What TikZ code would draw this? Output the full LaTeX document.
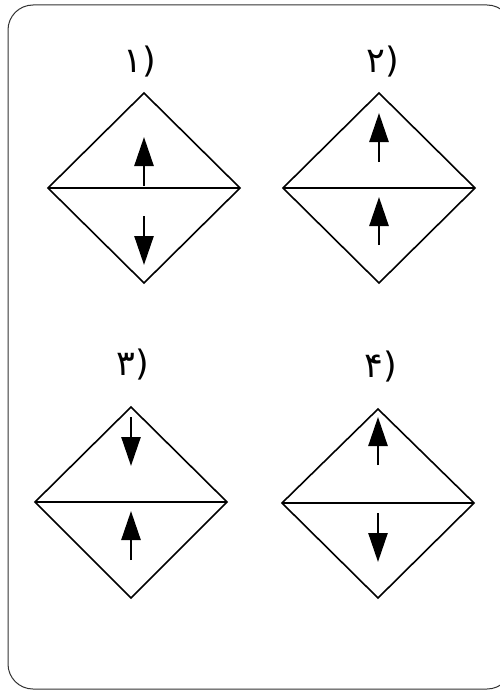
\documentclass[tikz,border=0pt]{standalone}
\usepackage{fontspec}
\newfontfamily\farsifont[Script=Arabic]{DejaVu Sans}
\usetikzlibrary{arrows.meta}
\tikzset{
  edge/.style = {line width = 1.6pt},
  spin/.style = {line width = 2.6pt, -{Triangle[length = 29pt, width = 19pt]}},
  num/.style = {font = \farsifont\fontsize{35}{35}\selectfont}
}
\begin{document}
\begin{tikzpicture}[x = 1pt, y = -1pt, draw = black]
\useasboundingbox (0,0) rectangle (500,690);
\draw[black!80, line width = 1pt, rounded corners = 25pt] (8,5) rectangle (512,689);
\begin{scope}[shift = {(144,188)}]
\draw[edge] (-96,0) -- (0,-95) -- (96,0) -- (0,95) -- cycle;
\draw[edge] (-96,0) -- (96,0);
\draw[spin] (0,-2) -- (0,-51);
\draw[spin] (0,28) -- (0,77);
\node[num] (n1) at (-4,-126) {(۱};
\end{scope}
\begin{scope}[shift = {(379,188)}]
\draw[edge] (-96,0) -- (0,-95) -- (96,0) -- (0,95) -- cycle;
\draw[edge] (-96,0) -- (96,0);
\draw[spin] (0,-26) -- (0,-75);
\draw[spin] (0,57) -- (0,9);
\node[num] (n2) at (4,-126) {(۲};
\end{scope}
\begin{scope}[shift = {(131,502)}]
\draw[edge] (-96,0) -- (0,-95) -- (96,0) -- (0,96) -- cycle;
\draw[edge] (-96,0) -- (96,0);
\draw[spin] (0,-85) -- (0,-36);
\draw[spin] (0,58) -- (0,9);
\node[num] (n3) at (2,-137) {(۳};
\end{scope}
\begin{scope}[shift = {(378,503)}]
\draw[edge] (-96,0) -- (0,-94) -- (96,0) -- (0,95) -- cycle;
\draw[edge] (-96,0) -- (96,0);
\draw[spin] (0,-38) -- (0,-86);
\draw[spin] (0,10) -- (0,59);
\node[num] (n4) at (3,-136) {(۴};
\end{scope}
\end{tikzpicture}
\end{document}
